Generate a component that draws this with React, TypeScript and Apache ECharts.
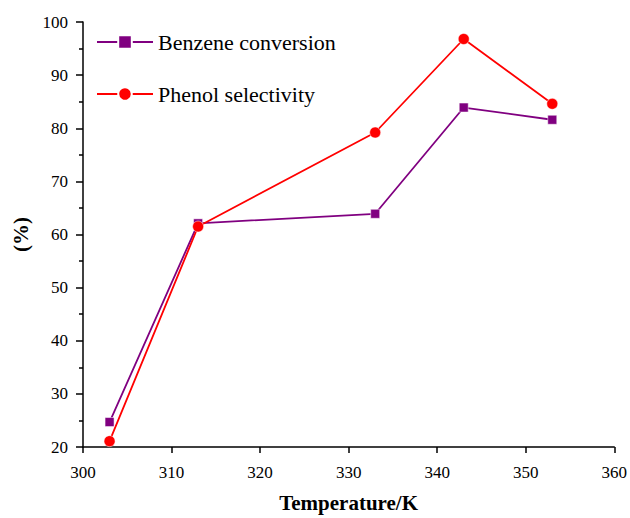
import React, { useEffect, useRef } from "react";
import * as echarts from "echarts";

// Reaction temperature (K)
const temperatures = [303, 313, 333, 343, 353];
// Benzene conversion (%)
const benzeneConversion = [24.7, 62.1, 63.9, 83.9, 81.6];
// Phenol selectivity (%)
const phenolSelectivity = [21.1, 61.5, 79.2, 96.8, 84.6];

const FONT = "Liberation Serif";

export default function App() {
  const ref = useRef<HTMLDivElement>(null);

  useEffect(() => {
    if (!ref.current) return;
    const chart = echarts.init(ref.current, undefined, { renderer: "svg" });
    const axisLine = { show: true, lineStyle: { color: "#000", width: 1.5 } };
    chart.setOption({
      animation: false,
      backgroundColor: "#fff",
      textStyle: { fontFamily: FONT },
      grid: { left: 83, right: 15, top: 22, bottom: 66, containLabel: false },
      legend: {
        orient: "vertical",
        left: 96,
        top: 31,
        padding: 0,
        itemWidth: 56,
        itemHeight: 17,
        itemGap: 30,
        textStyle: { fontFamily: FONT, fontSize: 22, color: "#000" },
        data: ["Benzene conversion", "Phenol selectivity"],
      },
      xAxis: {
        type: "value",
        min: 300,
        max: 360,
        interval: 10,
        name: "Temperature/K",
        nameLocation: "middle",
        nameGap: 45,
        nameTextStyle: { fontFamily: FONT, fontSize: 21, fontWeight: "bold", color: "#000" },
        axisLine,
        axisTick: { show: true, inside: false, length: 6, lineStyle: { color: "#000", width: 1.5 } },
        axisLabel: { fontFamily: FONT, fontSize: 17, color: "#000", margin: 17 },
        splitLine: { show: false },
      },
      yAxis: {
        type: "value",
        min: 20,
        max: 100,
        interval: 10,
        name: "(%)",
        nameLocation: "middle",
        nameGap: 49,
        nameRotate: 90,
        nameTextStyle: { fontFamily: FONT, fontSize: 21, fontWeight: "bold", color: "#000" },
        axisLine,
        axisTick: { show: true, inside: false, length: 7, lineStyle: { color: "#000", width: 1.5 } },
        minorTick: { show: true, splitNumber: 2, length: 4, lineStyle: { color: "#000", width: 1.5 } },
        axisLabel: { fontFamily: FONT, fontSize: 17, color: "#000", margin: 15 },
        splitLine: { show: false },
      },
      series: [
        {
          name: "Benzene conversion",
          type: "line",
          data: temperatures.map((t, i) => [t, benzeneConversion[i]]),
          symbol: "rect",
          symbolSize: 9,
          lineStyle: { color: "#800080", width: 1.8 },
          itemStyle: { color: "#800080", borderColor: "#fff", borderWidth: 0.5 },
        },
        {
          name: "Phenol selectivity",
          type: "line",
          data: temperatures.map((t, i) => [t, phenolSelectivity[i]]),
          symbol: "circle",
          symbolSize: 11,
          lineStyle: { color: "#ff0000", width: 1.8 },
          itemStyle: { color: "#ff0000", borderColor: "#fff", borderWidth: 0.5 },
        },
      ],
    });
    return () => chart.dispose();
  }, []);

  return (
    <div
      ref={ref}
      style={{ position: "fixed", left: 0, top: 0, width: 630, height: 518 }}
    />
  );
}
